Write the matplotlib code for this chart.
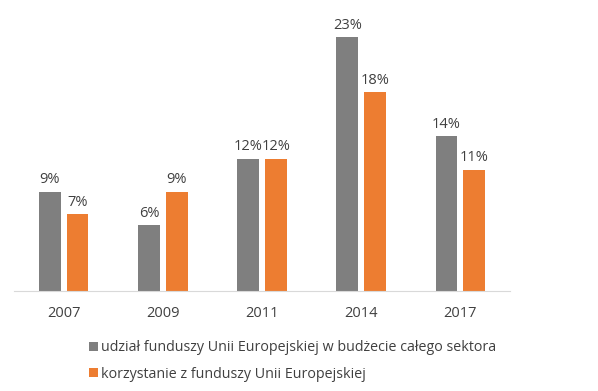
import matplotlib.pyplot as plt
import numpy as np

plt.rcParams['font.family'] = ['Open Sans', 'DejaVu Sans']

years = ["2007", "2009", "2011", "2014", "2017"]
share_budget = [9, 6, 12, 23, 14]
using_funds = [7, 9, 12, 18, 11]
labels = ["udział funduszy Unii Europejskiej w budżecie całego sektora",
          "korzystanie z funduszy Unii Europejskiej"]

gray = '#7f7f7f'
orange = '#ed7d31'
txt = '#404040'

fig = plt.figure(figsize=(5.98, 3.91), dpi=100, facecolor='w')
ax = fig.add_axes([14 / 598, 1 - 291 / 391, 496 / 598, 281 / 391])

x = np.arange(len(years))
w = 0.22
b1 = ax.bar(x - 0.14, share_budget, w, color=gray, label=labels[0])
b2 = ax.bar(x + 0.14, using_funds, w, color=orange, label=labels[1])
for bars in (b1, b2):
    ax.bar_label(bars, fmt='%d%%', padding=3, fontsize=10.5, color=txt)

ax.set_xlim(-0.5, 4.5)
ax.set_ylim(0, 25.45)
ax.set_xticks(x)
ax.set_xticklabels(years, fontsize=10.5, color=txt)
ax.set_yticks([])
ax.tick_params(axis='x', length=0, pad=11)
for s in ['top', 'right', 'left']:
    ax.spines[s].set_visible(False)
ax.spines['bottom'].set_color('#d9d9d9')

fig.legend(handles=[b1, b2], loc='upper left', bbox_to_anchor=(82 / 598, 1 - 333 / 391),
           frameon=False, fontsize=10.3, labelcolor=txt, handlelength=0.6,
           handleheight=0.6, handletextpad=0.25, labelspacing=0.8, borderpad=0)

plt.savefig('out.png', dpi=100)
